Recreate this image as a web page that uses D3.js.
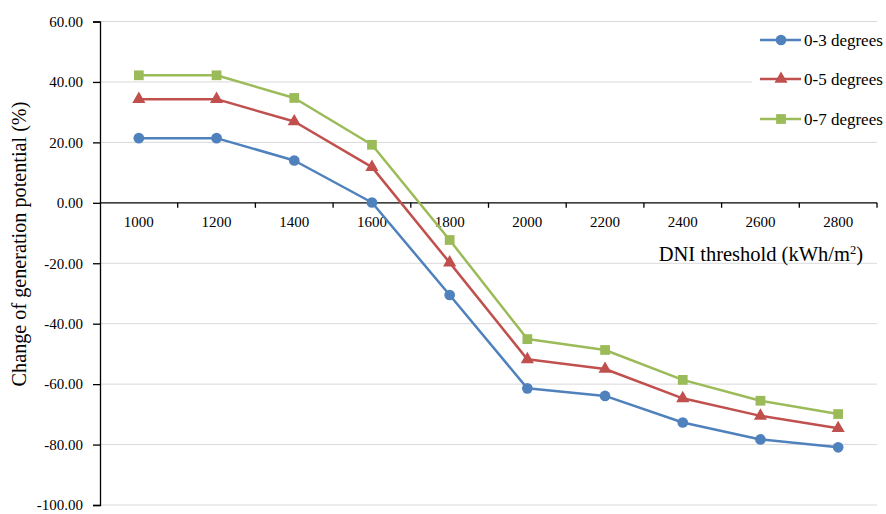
<!DOCTYPE html>
<html>
<head>
<meta charset="utf-8">
<script src="https://cdn.jsdelivr.net/npm/d3@7"></script>
<style>
html,body{margin:0;padding:0;background:#fff;}
svg{display:block;}
svg text{font-family:"Liberation Serif","Times New Roman","DejaVu Serif",serif !important;fill:#000;}
</style>
</head>
<body>
<svg id="chart" width="886" height="514"></svg>
<script>
const categories = ["1000","1200","1400","1600","1800","2000","2200","2400","2600","2800"];
const s03 = [21.4, 21.4, 14.0, 0.1, -30.5, -61.4, -63.9, -72.7, -78.3, -80.9];
const s05 = [34.3, 34.3, 26.9, 11.8, -19.8, -51.8, -55.0, -64.7, -70.5, -74.6];
const s07 = [42.2, 42.2, 34.7, 19.2, -12.3, -45.1, -48.7, -58.6, -65.5, -69.9];
const seriesNames = ["0-3 degrees", "0-5 degrees", "0-7 degrees"];
const yTicks = [60, 40, 20, 0, -20, -40, -60, -80, -100];

const colors = ["#4f81bd", "#c0504d", "#9bbb59"];
const markers = [d3.symbolCircle, d3.symbolTriangle, d3.symbolSquare];
const markerSizes = [90, 75, 95];
const seriesData = [s03, s05, s07];

const svg = d3.select("#chart");
const mLeft = 100, mRight = 877, mTop = 21.5, mBottom = 505;
const serif = '"Liberation Serif","Times New Roman","DejaVu Serif",serif';

const x = d3.scaleBand().domain(categories).range([mLeft, mRight]).padding(0);
const y = d3.scaleLinear().domain([-100, 60]).range([mBottom, mTop]);

// gridlines
svg.append("g").selectAll("line").data(yTicks.filter(d => d !== 0)).join("line")
  .attr("x1", mLeft).attr("x2", mRight)
  .attr("y1", d => y(d)).attr("y2", d => y(d))
  .attr("stroke", "#d9d9d9").attr("stroke-width", 1);

// y axis
const yAxis = svg.append("g").attr("transform", `translate(${mLeft},0)`)
  .call(d3.axisLeft(y).tickValues(yTicks).tickSize(7).tickPadding(10)
    .tickFormat(d => d3.format(".2f")(d).replace("\u2212", "-")));
yAxis.attr("font-family", null).attr("font-size", null);
yAxis.select(".domain").attr("stroke", "#000").attr("stroke-width", 1.3);
yAxis.selectAll(".tick line").attr("stroke", "#000").attr("stroke-width", 1.3);
yAxis.selectAll(".tick text").style("font-size", "15px").style("font-family", serif).attr("fill", "#000");

// x axis at zero
const xAxisG = svg.append("g").attr("transform", `translate(0,${y(0)})`);
xAxisG.append("line").attr("x1", mLeft).attr("x2", mRight).attr("y1", 0).attr("y2", 0)
  .attr("stroke", "#000").attr("stroke-width", 1.3);
const boundaries = categories.map(c => x(c) + x.bandwidth());
xAxisG.selectAll("line.tk").data(boundaries).join("line").attr("class", "tk")
  .attr("x1", d => d).attr("x2", d => d).attr("y1", 0).attr("y2", 5)
  .attr("stroke", "#000").attr("stroke-width", 1.3);
xAxisG.selectAll("text.lbl").data(categories).join("text").attr("class", "lbl")
  .attr("x", d => x(d) + x.bandwidth() / 2).attr("y", 24)
  .attr("text-anchor", "middle").style("font-size", "15px").style("font-family", serif).text(d => d);

// x title
const xt = svg.append("text").attr("x", 863).attr("y", 261).attr("text-anchor", "end")
  .style("font-size", "20.5px").style("font-family", serif);
xt.append("tspan").text("DNI threshold (kWh/m");
xt.append("tspan").style("font-size", "12.5px").attr("dy", -7).text("2");
xt.append("tspan").attr("dy", 7).text(")");

// y title
svg.append("text").attr("transform", "translate(26,244) rotate(-90)").attr("text-anchor", "middle")
  .style("font-size", "20.2px").style("font-family", serif).text("Change of generation potential (%)");

// series
const line = d3.line().x((d, i) => x(categories[i]) + x.bandwidth() / 2).y(d => y(d));
seriesData.forEach((data, k) => {
  const g = svg.append("g");
  g.append("path").datum(data).attr("d", line).attr("fill", "none")
    .attr("stroke", colors[k]).attr("stroke-width", 2.5).attr("stroke-linejoin", "round");
  g.selectAll("path.m").data(data).join("path").attr("class", "m")
    .attr("d", d3.symbol().type(markers[k]).size(markerSizes[k]))
    .attr("transform", (d, i) => `translate(${x(categories[i]) + x.bandwidth() / 2},${y(d)})`)
    .attr("fill", colors[k]);
});

// legend
const lg = svg.append("g");
lg.append("rect").attr("x", 752).attr("y", 25).attr("width", 134).attr("height", 113).attr("fill", "#fff");
const legY = [40, 79, 119];
seriesNames.forEach((name, k) => {
  lg.append("line").attr("x1", 760).attr("x2", 801).attr("y1", legY[k]).attr("y2", legY[k])
    .attr("stroke", colors[k]).attr("stroke-width", 2.5);
  lg.append("path").attr("d", d3.symbol().type(markers[k]).size(markerSizes[k]))
    .attr("transform", `translate(781,${legY[k]})`).attr("fill", colors[k]);
  lg.append("text").attr("x", 804).attr("y", legY[k] + 5.5)
    .style("font-size", "17px").style("font-family", serif).text(name);
});
</script>
</body>
</html>
